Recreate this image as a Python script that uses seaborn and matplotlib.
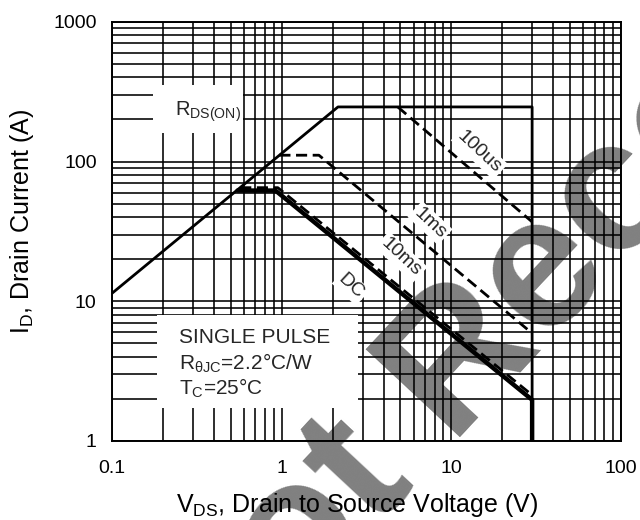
import matplotlib
matplotlib.use("Agg")
import matplotlib.pyplot as plt
from matplotlib.patches import Rectangle
import pandas as pd
import seaborn as sns

# ---- data ----
rds_v = [0.1, 2.15, 30, 30]
rds_i = [11.4, 246, 246, 1]
us100_v = [4.84, 30]
us100_i = [246, 37]
ms1_v = [0.97, 1.66, 30]
ms1_i = [111, 111, 5.9]
ms10_v = [0.57, 0.95, 30]
ms10_i = [65, 65, 2.13]
dc_v = [0.55, 0.92, 30, 30]
dc_i = [62, 62, 1.97, 1]

x_ticks = [0.1, 1, 10, 100]
x_ticklabels = ["0.1", "1", "10", "100"]
y_ticks = [1, 10, 100, 1000]
y_ticklabels = ["1", "10", "100", "1000"]

sns.set_theme(style="white")
plt.rcParams["font.family"] = ["Liberation Sans", "DejaVu Sans"]
plt.rcParams["mathtext.fontset"] = "custom"
plt.rcParams["mathtext.rm"] = "Liberation Sans"
plt.rcParams["mathtext.it"] = "Liberation Sans:italic"
plt.rcParams["mathtext.bf"] = "Liberation Sans:bold"

fig = plt.figure(figsize=(6.4, 5.2), dpi=100)
fig.patch.set_facecolor("white")
ax = fig.add_axes([0.175, 0.152, 0.795, 0.806])
ax.set_facecolor("none")

def draw(v, i, lw, ls):
    df = pd.DataFrame({"V": v, "I": i})
    sns.lineplot(data=df, x="V", y="I", ax=ax, sort=False, estimator=None,
                 color="black", linewidth=lw, linestyle=ls, zorder=3)

draw(rds_v, rds_i, 2.0, "-")
draw(us100_v, us100_i, 2.0, (0, (4, 2)))
draw(ms1_v, ms1_i, 2.0, (0, (4, 2)))
draw(ms10_v, ms10_i, 2.0, (0, (4, 2)))
draw(dc_v, dc_i, 3.2, "-")

ax.set_xscale("log")
ax.set_yscale("log")
ax.set_xlim(0.1, 100)
ax.set_ylim(1, 1000)
ax.set_xticks(x_ticks)
ax.set_xticklabels(x_ticklabels)
ax.set_yticks(y_ticks)
ax.set_yticklabels(y_ticklabels)
ax.tick_params(which="both", length=0, labelsize=14, colors="black")
ax.tick_params(axis="x", pad=14)
ax.tick_params(axis="y", pad=11)
ax.grid(True, which="both", color="black", linewidth=1.15)
for s in ax.spines.values():
    s.set_color("black")
    s.set_linewidth(1.4)

ax.set_xlabel(r"$\mathregular{V_{DS}}$, Drain to Source Voltage (V)", fontsize=18, color="black")
ax.set_ylabel(r"$\mathregular{I_{D}}$, Drain Current (A)", fontsize=18, color="black")
ax.xaxis.set_label_coords(0.482, -0.12)
ax.yaxis.set_label_coords(-0.15, 0.525)

# white annotation boxes
ax.add_patch(Rectangle((0.081, 0.735), 0.176, 0.115, transform=ax.transAxes,
                       facecolor="white", edgecolor="none", zorder=2.5))
ax.add_patch(Rectangle((0.088, 0.079), 0.395, 0.222, transform=ax.transAxes,
                       facecolor="white", edgecolor="none", zorder=2.5))

ax.text(0.124, 0.785, r"$\mathregular{R_{DS(ON)}}$", transform=ax.transAxes,
        fontsize=14.5, ha="left", va="center", zorder=5)
ax.text(0.132, 0.248, "SINGLE PULSE", transform=ax.transAxes,
        fontsize=15, ha="left", va="center", zorder=5)
ax.text(0.132, 0.186, r"$\mathregular{R_{θJC}}$=2.2°C/W", transform=ax.transAxes,
        fontsize=15, ha="left", va="center", zorder=5)
ax.text(0.132, 0.126, r"$\mathregular{T_{C}}$=25°C", transform=ax.transAxes,
        fontsize=15, ha="left", va="center", zorder=5)

box = dict(boxstyle="square,pad=0.12", facecolor="white", edgecolor="none")
for label, px, py in [("100us", 0.722, 0.689), ("1ms", 0.625, 0.520),
                      ("10ms", 0.568, 0.439), ("DC", 0.470, 0.368)]:
    ax.text(px, py, label, transform=ax.transAxes, fontsize=14, rotation=-43,
            ha="center", va="center", bbox=box, zorder=5)

# watermark
fig.text(0.318, -0.371, "Not Recommended", fontsize=135, fontweight="bold",
         color="#808080", rotation=47, rotation_mode="anchor",
         ha="left", va="baseline", zorder=-5)

fig.savefig("out.png", dpi=100)
